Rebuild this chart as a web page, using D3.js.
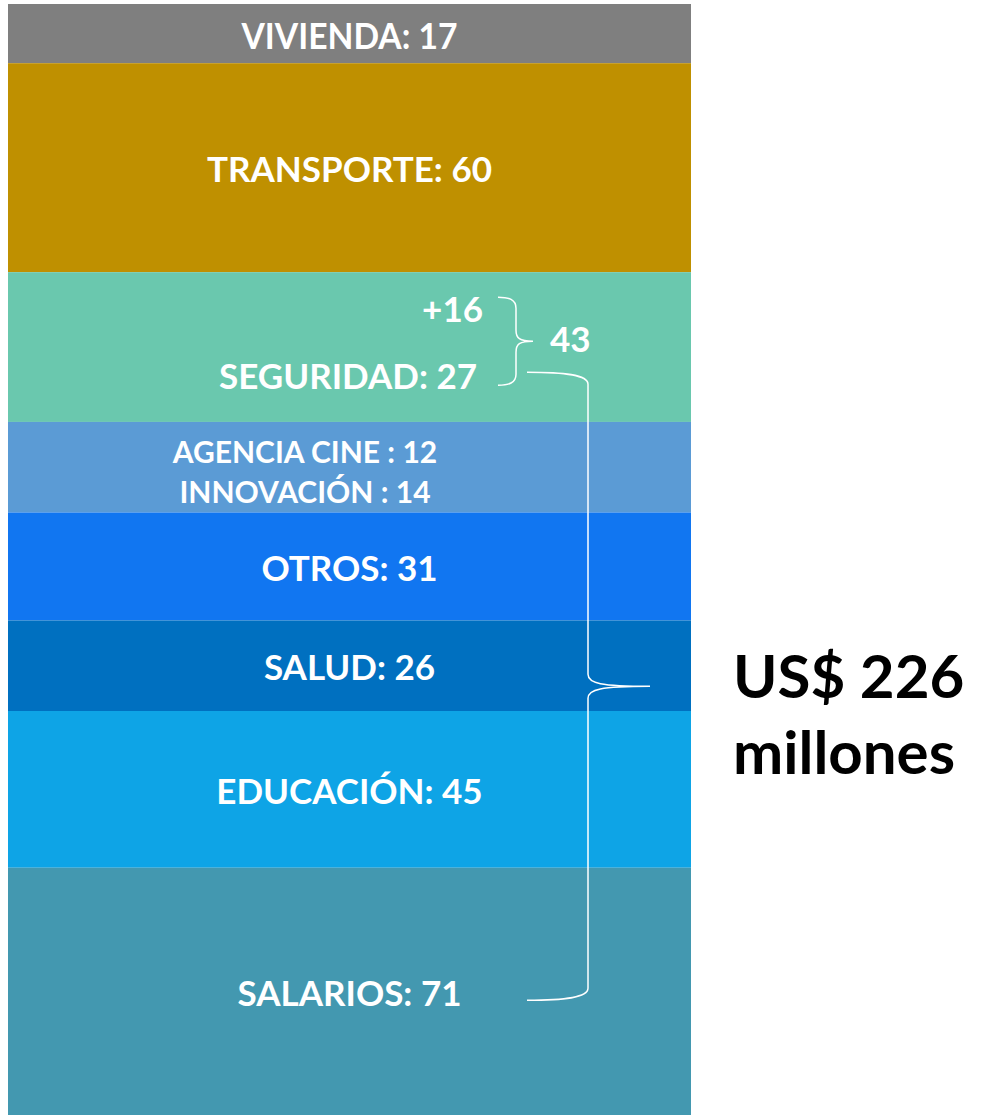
<!DOCTYPE html>
<html lang="es">
<head>
    <meta charset="UTF-8">
    <title>Presupuesto</title>
    <script src="https://cdn.jsdelivr.net/npm/d3@7"></script>
    <style>
        body { margin: 0; background: #fff; }
        text { font-family: Lato, "Open Sans", sans-serif; font-weight: 700; }
    </style>
</head>
<body>
<svg width="983" height="1115"></svg>
<script>
    // datos (de arriba hacia abajo)
    var categorias = ['VIVIENDA', 'TRANSPORTE', 'SEGURIDAD', 'AGENCIA CINE / INNOVACIÓN', 'OTROS', 'SALUD', 'EDUCACIÓN', 'SALARIOS'];
    var valores = [17, 60, 43, 26, 31, 26, 45, 71];
    var colores = ['#7f7f7f', '#bf9000', '#6ac8ae', '#5b9bd5', '#1176f1', '#0070c0', '#0ea4e6', '#4398b0'];
    // etiquetas de cada bloque
    var etiquetas = [
        ['VIVIENDA: 17'],
        ['TRANSPORTE: 60'],
        ['+16', 'SEGURIDAD: 27'],
        ['AGENCIA CINE : 12', 'INNOVACIÓN : 14'],
        ['OTROS: 31'],
        ['SALUD: 26'],
        ['EDUCACIÓN: 45'],
        ['SALARIOS: 71']
    ];
    var seguridadTotal = 43;
    var totalLabel = ['US$ 226', 'millones'];

    var svg = d3.select('svg');
    var total = d3.sum(valores);

    var y = d3.scaleLinear().domain([0, total]).range([4, 1115]);
    var x0 = 8, x1 = 691, cx = (x0 + x1) / 2;

    var acc = 0;
    var bloques = valores.map(function(v, i){
        var b = {i: i, nombre: categorias[i], v: v, y0: acc, y1: acc + v};
        acc += v;
        return b;
    });

    svg.selectAll('rect')
        .data(bloques)
        .enter().append('rect')
        .attr('x', x0)
        .attr('width', x1 - x0)
        .attr('y', function(d){ return y(d.y0) })
        .attr('height', function(d){ return y(d.y1) - y(d.y0) })
        .attr('fill', function(d){ return colores[d.i] });

    function mid(d){ return (y(d.y0) + y(d.y1)) / 2 }

    // etiquetas simples centradas
    var simples = bloques.filter(function(d){ return etiquetas[d.i].length == 1 });
    svg.selectAll('text.lab')
        .data(simples)
        .enter().append('text')
        .attr('class', 'lab')
        .attr('x', cx)
        .attr('y', function(d){ return mid(d) + 2 })
        .attr('dy', '0.36em')
        .attr('text-anchor', 'middle')
        .attr('fill', '#fff')
        .style('font-size', function(d){ return d.i == 0 ? '37px' : '35px' })
        .attr('textLength', function(d){ return d.i == 0 ? 216 : null })
        .attr('lengthAdjust', 'spacingAndGlyphs')
        .text(function(d){ return etiquetas[d.i][0] });

    // seguridad
    var seg = bloques[2];
    svg.append('text')
        .attr('x', 483).attr('y', y(seg.y0) + 50)
        .attr('text-anchor', 'end').attr('fill', '#fff')
        .style('font-size', '35px')
        .text(etiquetas[2][0]);
    svg.append('text')
        .attr('x', 477).attr('y', y(seg.y0) + 117)
        .attr('text-anchor', 'end').attr('fill', '#fff')
        .style('font-size', '35px')
        .text(etiquetas[2][1]);
    svg.append('text')
        .attr('x', 550).attr('y', y(seg.y0) + 80)
        .attr('fill', '#fff')
        .style('font-size', '35px')
        .text(seguridadTotal);

    // agencia cine / innovacion
    var ag = bloques[3];
    svg.selectAll('text.ag')
        .data(etiquetas[3])
        .enter().append('text')
        .attr('class', 'ag')
        .attr('x', 305)
        .attr('y', function(d, i){ return y(ag.y0) + 41 + i * 40 })
        .attr('text-anchor', 'middle').attr('fill', '#fff')
        .style('font-size', '30px')
        .text(function(d){ return d });

    // llaves
    function llave(xa, xv, xt, ya, yb){
        var ym = (ya + yb) / 2;
        var r = Math.min(12, (yb - ya) / 8);
        var p = d3.path();
        p.moveTo(xa, ya);
        p.bezierCurveTo(xa + (xv - xa) * 0.6, ya, xv, ya + r * 0.2, xv, ya + r);
        p.lineTo(xv, ym - r);
        p.bezierCurveTo(xv, ym - 3, xv + (xt - xv) * 0.2, ym, xt, ym);
        p.moveTo(xt, ym);
        p.bezierCurveTo(xv + (xt - xv) * 0.2, ym, xv, ym + 3, xv, ym + r);
        p.lineTo(xv, yb - r);
        p.bezierCurveTo(xv, yb - r * 0.2, xa + (xv - xa) * 0.6, yb, xa, yb);
        return p.toString();
    }

    svg.append('path')
        .attr('d', llave(498, 516, 533, y(seg.y0) + 25, y(seg.y0) + 113))
        .attr('fill', 'none').attr('stroke', '#fff').attr('stroke-width', 1.5);

    var sal = bloques[7];
    svg.append('path')
        .attr('d', llave(527, 588, 650, y(seg.y0) + 100, mid(sal) + 9))
        .attr('fill', 'none').attr('stroke', '#fff').attr('stroke-width', 1.5);

    svg.selectAll('text.tot')
        .data(totalLabel)
        .enter().append('text')
        .attr('class', 'tot')
        .attr('x', 733)
        .attr('y', function(d, i){ return 698 + i * 76 })
        .attr('fill', '#000')
        .style('font-size', '60px')
        .text(function(d){ return d });
</script>
</body>
</html>
